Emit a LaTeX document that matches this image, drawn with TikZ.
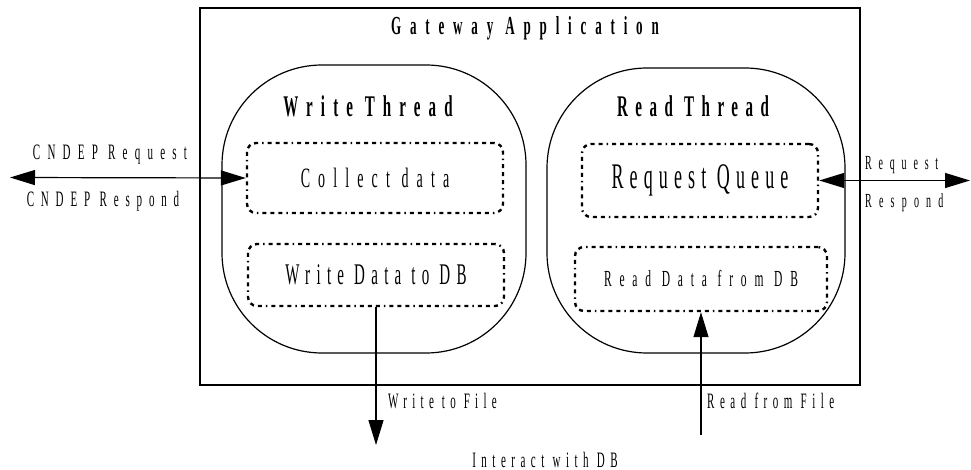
\documentclass[tikz,border=0pt]{standalone}
\usepackage{fontspec}
\setmainfont{Liberation Serif}
\newfontfamily\spreadfont[FakeStretch=0.5]{Liberation Serif}
\newcommand\spreadtext[2]{\spreadfont\fontsize{#1}{#1}\selectfont\addfontfeatures{LetterSpace=#2}}
\usetikzlibrary{arrows.meta}

\begin{document}
\begin{tikzpicture}[x=1pt,y=-1pt,
		thread/.style={draw,line width=1.2pt,rounded corners=100pt,inner sep=0pt},
		task/.style={draw,line width=2.4pt,rounded corners=9pt,inner sep=0pt,
			dash pattern=on 4pt off 4pt on 4pt off 4pt on 4pt off 4pt on 1.5pt off 4pt},
		label/.style={inner sep=0pt,anchor=base},
		tip/.style={line width=1.2pt,-{Triangle[length=25pt,width=15pt]}},
		tips/.style={line width=1.2pt,{Triangle[length=25pt,width=15pt]}-{Triangle[length=25pt,width=15pt]}}]
		\useasboundingbox (0,0) rectangle (971,470);
		%
		\node[draw,line width=2.5pt,inner sep=0pt,minimum width=660pt,minimum height=377pt] (app) at (530,196.5) {};
		\node[label,font=\spreadtext{26}{34}\bfseries] (apptitle) at (525,35) {Gateway Application};
		%
		\node[thread,minimum width=304pt,minimum height=288pt] (wthread) at (374,209) {};
		\node[thread,minimum width=298pt,minimum height=285pt] (rthread) at (696,210.5) {};
		\node[label,font=\spreadtext{30}{27}\bfseries] (wtitle) at (368,117) {Write Thread};
		\node[label,font=\spreadtext{30}{25}\bfseries] (rtitle) at (693,117) {Read Thread};
		%
		\node[task,minimum width=256pt,minimum height=70pt,font=\spreadtext{28}{29}] (collect) at (375,178) {Collect data};
		\node[task,minimum width=256pt,minimum height=62pt,font=\spreadtext{30}{21}] (writedb) at (376,275) {Write Data to DB};
		\node[task,minimum width=236pt,minimum height=73pt,font=\spreadtext{36}{17}] (queue) at (700,180.5) {Request Queue};
		\node[task,minimum width=252pt,minimum height=64pt,font=\spreadtext{23}{34}] (readdb) at (701,279) {Read Data from DB};
		%
		\coordinate (cndep) at (10,177.5);
		\coordinate (client) at (970,180.5);
		\coordinate (wfile) at (376,445);
		\coordinate (rfile) at (701,435);
		\draw[tips] (cndep) -- (collect.west);
		\draw[tips] (queue.east) -- (client);
		\draw[tip] (writedb.south) -- (wfile);
		\draw[tip] (rfile) -- (readdb.south);
		%
		\node[label,font=\spreadtext{22}{33}] (cndepreq) at (110,160) {CNDEP Request};
		\node[label,font=\spreadtext{22}{31}] (cndepresp) at (103,207) {CNDEP Respond};
		\node[label,anchor=base west,font=\spreadtext{20}{34}] (req) at (865,170) {Request};
		\node[label,anchor=base west,font=\spreadtext{20}{36}] (resp) at (865,208) {Respond};
		\node[label,anchor=base west,font=\spreadtext{22}{24}] (wlabel) at (388,408) {Write to File};
		\node[label,anchor=base west,font=\spreadtext{22}{25}] (rlabel) at (707,408) {Read from File};
		\node[label,font=\spreadtext{22}{25}] (dblabel) at (545,467) {Interact with DB};
	\end{tikzpicture}
\end{document}
